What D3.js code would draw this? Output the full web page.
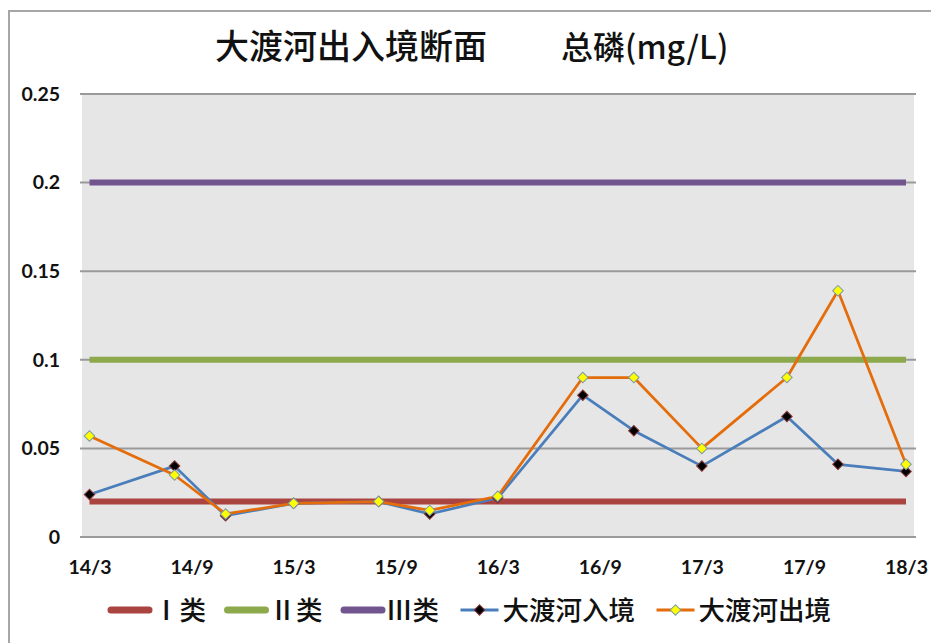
<!DOCTYPE html>
<html>
<head>
<meta charset="utf-8">
<script src="https://cdn.jsdelivr.net/npm/d3@7/dist/d3.min.js"></script>
<style>
  html, body { margin: 0; padding: 0; background: #fff; }
  svg { display: block; }
</style>
</head>
<body>
<svg id="chart" width="931" height="643"></svg>
<script>
// ---------- data ----------
const months = ["2014-03","2014-08","2014-11","2015-03","2015-08","2015-11","2016-03","2016-08","2016-11","2017-03","2017-08","2017-11","2018-03"];
const inflow  = [0.024, 0.040, 0.012, 0.019, 0.020, 0.013, 0.022, 0.080, 0.060, 0.040, 0.068, 0.041, 0.037];
const outflow = [0.057, 0.035, 0.013, 0.019, 0.020, 0.015, 0.023, 0.090, 0.090, 0.050, 0.090, 0.139, 0.041];
const standardNames  = ["Ⅰ类", "Ⅱ类", "Ⅲ类"];
const standardValues = [0.02, 0.1, 0.2];
const seriesNames = ["大渡河入境", "大渡河出境"];
const xTickMonths = ["2014-03","2014-09","2015-03","2015-09","2016-03","2016-09","2017-03","2017-09","2018-03"];
const xTickLabels = ["14/3","14/9","15/3","15/9","16/3","16/9","17/3","17/9","18/3"];
const yTicks = [0, 0.05, 0.1, 0.15, 0.2, 0.25];
const yTickLabels = ["0","0.05","0.1","0.15","0.2","0.25"];
const titleMain = "大渡河出入境断面";
const titleUnit = "总磷(mg/L)";

// ---------- helpers ----------
const monthIndex = s => { const [y, m] = s.split("-").map(Number); return (y - 2014) * 12 + (m - 3); };

const stdColors = ["#A94441", "#8CA94C", "#70558F"];
const inColor = "#4A7EBB", outColor = "#E46C0A";
const latin = "Lato, 'Open Sans', 'Liberation Sans', sans-serif";
const cjk = "'Noto Sans CJK SC', 'Noto Sans', sans-serif";

const svg = d3.select("#chart");

// frame
svg.append("line").attr("x1", 8).attr("x2", 931).attr("y1", 11).attr("y2", 11)
  .attr("stroke", "#a6a6a6").attr("stroke-width", 2);
svg.append("line").attr("x1", 9).attr("x2", 9).attr("y1", 10).attr("y2", 643)
  .attr("stroke", "#a6a6a6").attr("stroke-width", 2);

// scales
const x = d3.scaleLinear().domain([0, 48]).range([89.5, 906]);
const y = d3.scaleLinear().domain([0, 0.25]).range([537, 94]);
const plotL = 82, plotR = 914;

// plot background
svg.append("rect").attr("x", plotL).attr("y", y(0.25)).attr("width", plotR - plotL)
  .attr("height", y(0) - y(0.25)).attr("fill", "#e6e6e6");

// gridlines
svg.append("g").selectAll("line").data(yTicks).join("line")
  .attr("x1", plotL - 2).attr("x2", plotR + 2)
  .attr("y1", d => y(d)).attr("y2", d => y(d))
  .attr("stroke", "#9a9a9a").attr("stroke-width", 2);

// y axis
const yAxis = svg.append("g").attr("transform", `translate(${plotL},0)`)
  .call(d3.axisLeft(y).tickValues(yTicks).tickSize(0).tickPadding(22)
        .tickFormat((d, i) => yTickLabels[i]));
yAxis.select(".domain").remove();
yAxis.selectAll("text").attr("font-family", latin).attr("font-weight", "bold")
  .attr("font-size", 19.5).attr("fill", "#111");

// x axis
const xAxis = svg.append("g").attr("transform", `translate(0,${y(0)})`)
  .call(d3.axisBottom(x).tickValues(xTickMonths.map(monthIndex)).tickSize(0).tickPadding(23)
        .tickFormat((d, i) => xTickLabels[i]));
xAxis.select(".domain").remove();
xAxis.selectAll("text").attr("font-family", latin).attr("font-weight", "bold")
  .attr("font-size", 19.5).attr("fill", "#111");

// standard lines
svg.append("g").selectAll("line").data(standardValues).join("line")
  .attr("x1", x(0)).attr("x2", x(48))
  .attr("y1", d => y(d)).attr("y2", d => y(d))
  .attr("stroke", (d, i) => stdColors[i]).attr("stroke-width", 6);

// series
const line = d3.line().x(d => x(monthIndex(d.m))).y(d => y(d.v));
const inData = months.map((m, i) => ({ m, v: inflow[i] }));
const outData = months.map((m, i) => ({ m, v: outflow[i] }));

svg.append("path").datum(inData).attr("d", line).attr("fill", "none")
  .attr("stroke", inColor).attr("stroke-width", 2.75).attr("stroke-linejoin", "round");
svg.append("path").datum(outData).attr("d", line).attr("fill", "none")
  .attr("stroke", outColor).attr("stroke-width", 2.75).attr("stroke-linejoin", "round");

const diamond = d3.symbol().type(d3.symbolSquare).size(56);
function markers(data, fill, stroke) {
  svg.append("g").selectAll("path").data(data).join("path")
    .attr("d", diamond)
    .attr("transform", d => `translate(${x(monthIndex(d.m))},${y(d.v)}) rotate(45)`)
    .attr("fill", fill).attr("stroke", stroke).attr("stroke-width", 1);
}
markers(inData, "#000", "#8a3a3a");
markers(outData, "#ffff00", "#7d9aa6");

// title
const title = svg.append("text").attr("y", 59).attr("font-family", cjk)
  .attr("font-weight", 500).attr("fill", "#111");
title.append("tspan").attr("x", 215).attr("font-size", 34).text(titleMain);
title.append("tspan").attr("x", 561).attr("font-size", 32).text(titleUnit);

// legend
const legendItems = [
  ...standardNames.map((n, i) => ({ name: n, color: stdColors[i], w: 7, marker: null })),
  { name: seriesNames[0], color: inColor, w: 3, marker: ["#000", "#8a3a3a"] },
  { name: seriesNames[1], color: outColor, w: 3, marker: ["#ffff00", "#7d9aa6"] }
];
const legend = svg.append("g").attr("transform", "translate(0,610)");
let lx = 111;
legendItems.forEach(it => {
  const g = legend.append("g").attr("transform", `translate(${lx},0)`);
  g.append("line").attr("x1", 0).attr("x2", 38).attr("y1", 0).attr("y2", 0)
    .attr("stroke", it.color).attr("stroke-width", it.w).attr("stroke-linecap", it.marker ? "butt" : "round");
  if (it.marker) {
    g.append("path").attr("d", diamond).attr("transform", "translate(19,0) rotate(45)")
      .attr("fill", it.marker[0]).attr("stroke", it.marker[1]).attr("stroke-width", 1);
  }
  const t = g.append("text").attr("x", 42).attr("y", 0).attr("dy", "0.36em")
    .attr("font-family", cjk).attr("font-weight", 500).attr("font-size", 26.5).attr("fill", "#111").text(it.name);
  lx += 42 + t.node().getComputedTextLength() + 21.5;
});
</script>
</body>
</html>
